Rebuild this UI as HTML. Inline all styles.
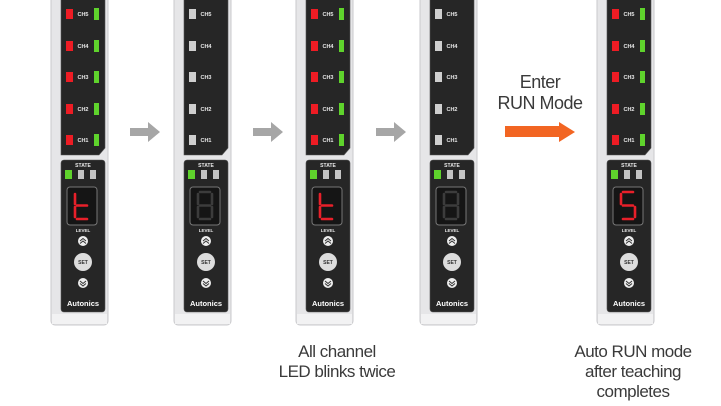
<!DOCTYPE html>
<html><head><meta charset="utf-8"><style>
html,body{margin:0;padding:0;background:#fff;}
body{width:721px;height:406px;position:relative;overflow:hidden;font-family:"Liberation Sans",sans-serif;}
.t{position:absolute;color:#3a3a3a;font-size:17px;text-align:center;line-height:20px;letter-spacing:-0.5px;}
</style></head><body>
<svg width="721" height="406" style="position:absolute;left:0;top:0" xmlns="http://www.w3.org/2000/svg">
<defs>
<g id="body">
  <rect x="51" y="-6" width="57" height="331" rx="4" fill="#e6e6e8" stroke="#c9c9cc"/>
  <rect x="52" y="314" width="55" height="10" fill="#f2f2f3"/>
  <path d="M61,-6 H105 V148 L99,155 H61 Z" fill="#262626" stroke="#555" stroke-width="0.6"/>
  <rect x="61" y="160" width="44" height="152" rx="3" fill="#262626" stroke="#555" stroke-width="0.6"/>
  <g font-size="5.5" fill="#e8e8e8" text-anchor="middle" font-weight="bold">
    <text x="83" y="16">CH5</text><text x="83" y="48">CH4</text><text x="83" y="79">CH3</text><text x="83" y="111">CH2</text><text x="83" y="142">CH1</text>
    <text x="83" y="167" font-size="5">STATE</text>
    <text x="83" y="232" font-size="4.5">LEVEL</text>
    <text x="83" y="306" font-size="7.5" fill="#fff">Autonics</text>
  </g>
  <rect x="65" y="170" width="7" height="9" fill="#5fd32c"/>
  <rect x="78" y="170" width="6" height="9" fill="#c4c4c4"/>
  <rect x="90" y="170" width="6" height="9" fill="#c4c4c4"/>
  <rect x="67" y="187" width="30" height="38" rx="3" fill="#151515" stroke="#777"/>
  <circle cx="83" cy="241" r="5" fill="#eee"/><path d="M80,241 l3,-2.5 l3,2.5 M80,243.5 l3,-2.5 l3,2.5" stroke="#333" fill="none" stroke-width="1"/>
  <circle cx="83" cy="262" r="9" fill="#ddd"/><text x="83" y="264" font-size="5" text-anchor="middle" fill="#333" font-weight="bold">SET</text>
  <circle cx="83" cy="283" r="5" fill="#eee"/><path d="M80,281 l3,2.5 l3,-2.5 M80,283.5 l3,2.5 l3,-2.5" stroke="#333" fill="none" stroke-width="1"/>
</g>
<g id="ledson">
  <g fill="#ee1c24"><rect x="66" y="9" width="7" height="10"/><rect x="66" y="41" width="7" height="10"/><rect x="66" y="72" width="7" height="10"/><rect x="66" y="104" width="7" height="10"/><rect x="66" y="135" width="7" height="10"/></g>
  <g fill="#5fd32c"><rect x="94" y="8" width="5" height="12"/><rect x="94" y="40" width="5" height="12"/><rect x="94" y="71" width="5" height="12"/><rect x="94" y="103" width="5" height="12"/><rect x="94" y="134" width="5" height="12"/></g>
</g>
<g id="ledsoff">
  <g fill="#cfcfcf"><rect x="66" y="9" width="7" height="10"/><rect x="66" y="41" width="7" height="10"/><rect x="66" y="72" width="7" height="10"/><rect x="66" y="104" width="7" height="10"/><rect x="66" y="135" width="7" height="10"/></g>
</g>
<g id="d8" stroke="#3c3c3c" stroke-width="2.6" stroke-linecap="round">
  <path d="M77,192 H87 M75,194 V204 M89,194 V204 M77,205.5 H87 M75,207 V217 M89,207 V217 M77,219 H87"/>
</g>
<g id="dt" stroke="#e8202a" stroke-width="2.6" stroke-linecap="round">
  <path d="M75,194 V204 M77,205.5 H87 M75,207 V217 M77,219 H87"/>
</g>
<g id="d5" stroke="#e8202a" stroke-width="2.6" stroke-linecap="round">
  <path d="M77,192 H87 M75,194 V204 M77,205.5 H87 M89,207 V217 M77,219 H87"/>
</g>
</defs>
<g><use href="#body"/><use href="#ledson"/><use href="#dt"/></g>
<g transform="translate(123,0)"><use href="#body"/><use href="#ledsoff"/><use href="#d8"/></g>
<g transform="translate(245,0)"><use href="#body"/><use href="#ledson"/><use href="#dt"/></g>
<g transform="translate(369,0)"><use href="#body"/><use href="#ledsoff"/><use href="#d8"/></g>
<g transform="translate(546,0)"><use href="#body"/><use href="#ledson"/><use href="#d5"/></g>
<g fill="#a6a6a6">
  <path d="M130,128 H148 V122 L160,132 L148,142 V136 H130 Z"/>
  <path d="M253,128 H271 V122 L283,132 L271,142 V136 H253 Z"/>
  <path d="M376,128 H394 V122 L406,132 L394,142 V136 H376 Z"/>
</g>
<path d="M505,126 H559 V122 L575,132 L559,142 V137 H505 Z" fill="#f26522"/>
</svg>
<div class="t" style="left:480px;top:72px;width:120px;font-size:18px;line-height:21px;">Enter<br>RUN Mode</div>
<div class="t" style="left:257px;top:342px;width:160px;">All channel<br>LED blinks twice</div>
<div class="t" style="left:553px;top:342px;width:160px;">Auto RUN mode<br>after teaching<br>completes</div>
</body></html>
